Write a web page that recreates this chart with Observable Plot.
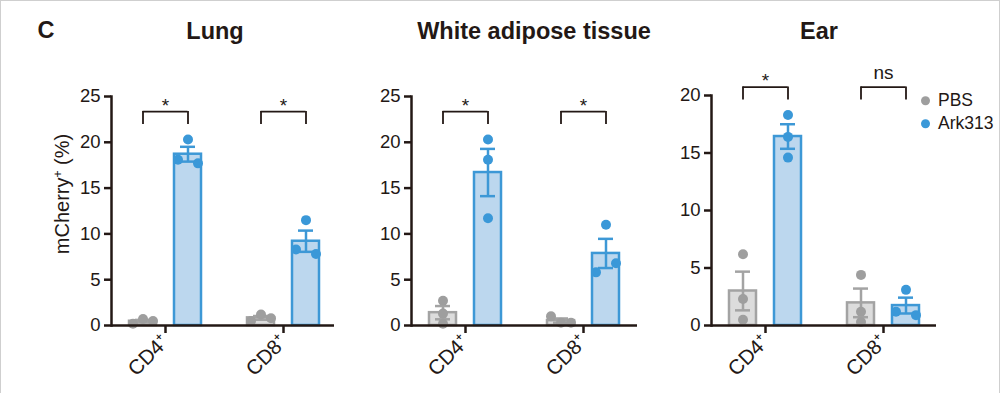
<!DOCTYPE html>
<html><head><meta charset="utf-8">
<script src="https://cdn.jsdelivr.net/npm/d3@7"></script>
<script src="https://cdn.jsdelivr.net/npm/@observablehq/plot@0.6"></script>
<style>
body{margin:0;background:#fff;font-family:"Liberation Sans",Arial,Helvetica,sans-serif;}
#wrap{position:relative;width:1000px;height:393px;box-sizing:border-box;border:1px solid #cfcfcf;border-bottom:none;overflow:hidden;background:#fff}
.abs{position:absolute;white-space:nowrap;color:#231815;line-height:1}
.title{font-weight:bold;font-size:23.5px;transform:translate(-50%,-50%)}
#wrap svg{position:absolute;top:0}
.ylab{font-size:20px;transform:translate(-50%,-50%) rotate(-90deg)}
.ylab sup{font-size:12px}
.leg{font-size:17.5px;transform:translateY(-50%)}
.leg i{display:inline-block;width:9px;height:9px;border-radius:50%;margin-right:8px;vertical-align:middle;position:relative;top:-1px}
</style></head><body><div id="wrap"></div>
<script>
// ---- data ----
const tissues = ["Lung", "White adipose tissue", "Ear"];
const cells = ["CD4⁺", "CD8⁺"];
const groups = ["PBS", "Ark313"];
const yMaxes = [25, 25, 20];

const lungCD4_PBS = [0.2, 0.7, 0.5];
const lungCD4_Ark = [20.3, 18.1, 17.7];
const lungCD8_PBS = [0.5, 1.2, 0.8];
const lungCD8_Ark = [11.5, 8.3, 7.8];
const watCD4_PBS = [2.7, 1.3, 0.2];
const watCD4_Ark = [20.3, 18.1, 11.7];
const watCD8_PBS = [1.0, 0.3, 0.3];
const watCD8_Ark = [11.0, 5.8, 6.8];
const earCD4_PBS = [6.2, 2.3, 0.5];
const earCD4_Ark = [18.3, 16.4, 14.6];
const earCD8_PBS = [4.4, 1.2, 0.3];
const earCD8_Ark = [3.1, 1.2, 0.9];

const lungSig = ["*", "*"];
const watSig = ["*", "*"];
const earSig = ["*", "ns"];

const series = [
  [[lungCD4_PBS, lungCD4_Ark], [lungCD8_PBS, lungCD8_Ark]],
  [[watCD4_PBS, watCD4_Ark], [watCD8_PBS, watCD8_Ark]],
  [[earCD4_PBS, earCD4_Ark], [earCD8_PBS, earCD8_Ark]]
];
const sigs = [lungSig, watSig, earSig];

// ---- style / layout ----
const INK = "#231815";
const barFill = {PBS: "#dcdcdc", Ark313: "#bcd7ee"};
const barStroke = {PBS: "#a3a3a3", Ark313: "#3d98d6"};
const dotFill = {PBS: "#9e9e9e", Ark313: "#3a98d8"};
const layout = [
  {left: 0, w: 340, ml: 110, mr: 7, mt: 95},
  {left: 340, w: 320, ml: 70, mr: 24, mt: 95},
  {left: 660, w: 340, ml: 50, mr: 65, mt: 94}
];
const H = 393, MB = 69;
const groupOff = {PBS: -22.5, Ark313: 22.5};
const BW = 118, barW = 27, capW = 15;

function dodge(vals, k, thr = 9.5, s = 10) {
  const idx = vals.map((v, i) => i).sort((a, b) => vals[a] - vals[b]);
  const clusters = []; let cur = [idx[0]];
  for (let j = 1; j < idx.length; j++) {
    if ((vals[idx[j]] - vals[idx[j - 1]]) * k < thr) cur.push(idx[j]);
    else { clusters.push(cur); cur = [idx[j]]; }
  }
  clusters.push(cur);
  const offs = new Array(vals.length).fill(0);
  for (const c of clusters) {
    c.sort((a, b) => a - b);
    const pat = c.length === 1 ? [0] : c.length === 2 ? [-s, s] : c.map((_, i) => (i - (c.length - 1) / 2) * s);
    c.forEach((i, j) => offs[i] = pat[j]);
  }
  return offs;
}

function panel(i) {
  const L = layout[i];
  const yMax = yMaxes[i];
  const k = (H - MB - L.mt) / yMax;
  const pts = [], stats = [];
  cells.forEach((c, ci) => groups.forEach((g, gi) => {
    const vals = series[i][ci][gi];
    const offs = dodge(vals, k);
    vals.forEach((v, j) => pts.push({cell: c, group: g, value: v, off: offs[j]}));
    const m = d3.mean(vals), se = d3.deviation(vals) / Math.sqrt(vals.length);
    stats.push({cell: c, group: g, mean: m, lo: m - se, hi: m + se});
  }));
  const maxV = d3.max(pts, d => d.value);
  const bBot = maxV + 15 / k, bTop = bBot + 13 / k;
  const br = cells.map((c, ci) => ({cell: c, label: sigs[i][ci], y1: bBot, y2: bTop}));

  const marks = [];
  for (const g of groups) {
    const rows = stats.filter(d => d.group === g);
    const inset = (BW - barW) / 2, capInset = (BW - capW) / 2;
    marks.push(Plot.barY(rows, {x: "cell", y: "mean", dx: groupOff[g], insetLeft: inset, insetRight: inset,
      fill: barFill[g], stroke: barStroke[g], strokeWidth: 2.5}));
    marks.push(Plot.ruleX(rows, {x: "cell", y1: "lo", y2: "hi", dx: groupOff[g], stroke: barStroke[g], strokeWidth: 2.5}));
    marks.push(Plot.tickY(rows, {x: "cell", y: "hi", dx: groupOff[g], insetLeft: capInset, insetRight: capInset, stroke: barStroke[g], strokeWidth: 2.5}));
    marks.push(Plot.tickY(rows, {x: "cell", y: "lo", dx: groupOff[g], insetLeft: capInset, insetRight: capInset, stroke: barStroke[g], strokeWidth: 2.5}));
  }
  for (const g of groups) {
    const offsSet = Array.from(new Set(pts.filter(d => d.group === g).map(d => d.off)));
    for (const o of offsSet) {
      marks.push(Plot.dot(pts.filter(d => d.group === g && d.off === o), {x: "cell", y: "value", dx: groupOff[g] + o, r: 5, fill: dotFill[g], stroke: "none"}));
    }
  }
  // significance brackets
  const bi = BW / 2 - 22.5;
  marks.push(Plot.tickY(br, {x: "cell", y: "y2", insetLeft: bi, insetRight: bi, stroke: INK, strokeWidth: 1.8}));
  marks.push(Plot.ruleX(br, {x: "cell", y1: "y1", y2: "y2", dx: -22.5, stroke: INK, strokeWidth: 1.8}));
  marks.push(Plot.ruleX(br, {x: "cell", y1: "y1", y2: "y2", dx: 22.5, stroke: INK, strokeWidth: 1.8}));
  marks.push(Plot.text(br.filter(d => d.label === "*"), {x: "cell", y: "y2", text: "label", dy: -6, fontSize: 19, fill: INK}));
  marks.push(Plot.text(br.filter(d => d.label !== "*"), {x: "cell", y: "y2", text: "label", dy: -14, fontSize: 19, fill: INK}));
  // axes
  marks.push(Plot.ruleY([0], {stroke: INK, strokeWidth: 2.5}));
  marks.push(Plot.frame({anchor: "left", stroke: INK, strokeWidth: 2.5}));
  marks.push(Plot.axisY({ticks: d3.range(0, yMax + 1, 5), tickSize: 7, tickPadding: 4, fontSize: 18.5, color: INK, strokeWidth: 2.5, label: null}));
  marks.push(Plot.axisX({tickSize: 8, tickPadding: 5, tickRotate: -45, fontSize: 20.5, color: INK, strokeWidth: 2.5, label: null}));

  const svg = Plot.plot({
    width: L.w, height: H, marginLeft: L.ml, marginRight: L.mr, marginTop: L.mt, marginBottom: MB,
    x: {domain: cells, range: [L.ml - 5, L.ml - 5 + 2 * BW], padding: 0, axis: null},
    y: {domain: [0, yMax], axis: null},
    style: {fontFamily: "'Liberation Sans', Arial, sans-serif", background: "transparent", overflow: "visible", color: INK},
    marks
  });
  svg.style.left = L.left + "px";
  return svg;
}

const wrap = document.getElementById("wrap");
tissues.forEach((t, i) => wrap.appendChild(panel(i)));

function addText(html, cls, x, y) {
  const d = document.createElement("div");
  d.className = "abs " + cls;
  d.style.left = x + "px"; d.style.top = y + "px";
  d.innerHTML = html;
  wrap.appendChild(d);
}
addText("C", "title", 45, 30);
const titleX = [214, 533, 818];
tissues.forEach((t, i) => addText(t, "title", titleX[i], 31));
addText("mCherry<sup>+</sup> (%)", "ylab", 61, 193);
groups.forEach((g, i) => addText(`<i style="background:${dotFill[g]}"></i>${g}`, "leg", 920, 100 + i * 23));
</script></body></html>
